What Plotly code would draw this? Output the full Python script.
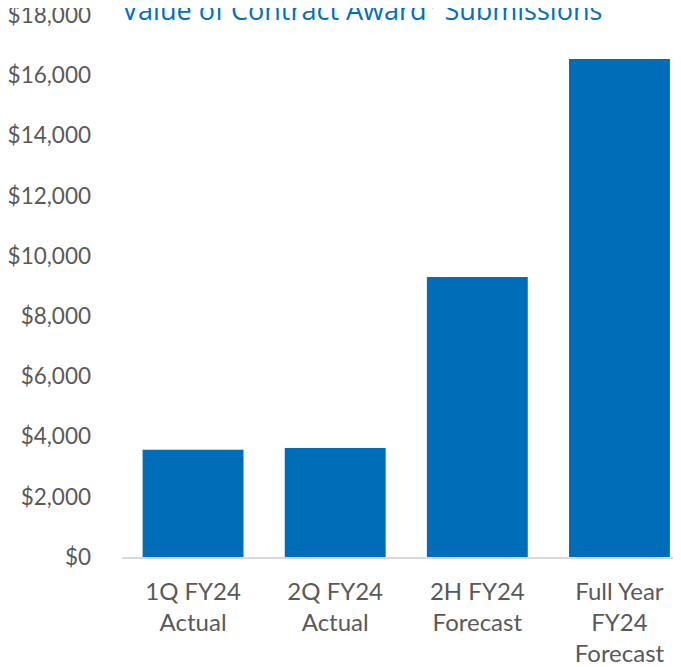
import plotly.graph_objects as go

categories = ["1Q FY24<br>Actual", "2Q FY24<br>Actual", "2H FY24<br>Forecast", "Full Year<br>FY24<br>Forecast"]
values = [3560, 3620, 9300, 16540]
tick_vals = [0, 2000, 4000, 6000, 8000, 10000, 12000, 14000, 16000, 18000]
tick_text = ["$0", "$2,000", "$4,000", "$6,000", "$8,000", "$10,000", "$12,000", "$14,000", "$16,000", "$18,000"]
title_text = "Value of Contract Award<span style='color:#BDD7EE'><sup>1</sup></span> Submissions"

W, H = 673, 667
fig = go.Figure()
fig.add_trace(go.Bar(
    x=list(range(len(categories))), y=values,
    marker=dict(color="#006DB8", line=dict(width=0)),
    width=0.71,
))

FONT = "Lato"
fig.update_layout(
    width=W, height=H,
    margin=dict(l=114, r=0, t=7, b=118, autoexpand=False),
    paper_bgcolor="white", plot_bgcolor="white",
    showlegend=False,
    font=dict(family=FONT, color="#595959"),
    xaxis=dict(
        range=[-0.5, 3.433],
        tickmode="array", tickvals=list(range(len(categories))), ticktext=categories,
        tickfont=dict(size=24, color="#595959", family=FONT),
        showgrid=False, zeroline=False,
        showline=True, linecolor="#D9D9D9", linewidth=2,
        ticks="", ticklabelstandoff=12, automargin=False,
        ticklabeloverflow="allow",
    ),
    yaxis=dict(
        range=[0, 18000],
        tickmode="array", tickvals=tick_vals, ticktext=tick_text,
        tickfont=dict(size=22.5, color="#595959", family=FONT),
        showgrid=False, zeroline=False, showline=False,
        ticks="", ticklabelstandoff=30, automargin=False,
        ticklabeloverflow="allow",
    ),
)
fig.add_annotation(
    text=title_text, xref="paper", yref="paper",
    x=-0.004, y=1.0, xanchor="left", yanchor="bottom", yshift=-15,
    showarrow=False,
    font=dict(size=27, color="#0070C0", family="Open Sans"),
)
fig.write_html("out.html")
